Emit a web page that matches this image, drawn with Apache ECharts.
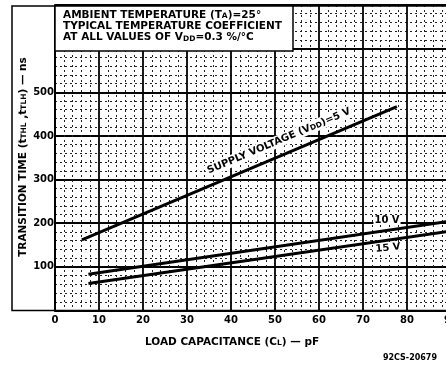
<!DOCTYPE html>
<html>
<head>
<meta charset="utf-8">
<script src="https://cdn.jsdelivr.net/npm/echarts@6/dist/echarts.min.js"></script>
<style>
html,body{margin:0;padding:0;background:#fff;}
#c{width:446px;height:365px;}
</style>
</head>
<body>
<div id="c"></div>
<script>
// ---- data ----
const capacitance5V = [6.1, 77.7];     // pF
const time5V = [162, 467];             // ns
const capacitance10V = [7.6, 90];
const time10V = [83, 205];
const capacitance15V = [7.6, 90];
const time15V = [62, 182];
const xTicks = [0, 10, 20, 30, 40, 50, 60, 70, 80, 90];
const yTickLabels = [100, 200, 300, 400, 500];

const FONT = '"DejaVu Sans", "Liberation Sans", sans-serif';
const pairs = (xs, ys) => xs.map((x, i) => [x, ys[i]]);
const sub = { s: { fontSize: 7.5, fontWeight: 'bold', fontFamily: FONT, fill: '#000', verticalAlign: 'bottom' } };

const chart = echarts.init(document.getElementById('c'), null, { renderer: 'canvas' });

const lineSeries = (name, data) => ({
  name, type: 'line', data, symbol: 'none', silent: true, z: 5,
  lineStyle: { color: '#000', width: 3 }
});

chart.setOption({
  animation: false,
  backgroundColor: '#fff',
  grid: { left: 55, right: -5, top: 5, bottom: 54.5, containLabel: false, outerBoundsMode: 'none' },
  xAxis: {
    type: 'value', min: xTicks[0], max: xTicks[xTicks.length - 1], interval: 10,
    axisLine: { show: true, lineStyle: { color: '#000', width: 2 } },
    axisTick: { show: false },
    axisLabel: { color: '#000', fontFamily: FONT, fontWeight: 'bold', fontSize: 10, margin: 5, hideOverlap: false },
    splitLine: { show: true, lineStyle: { color: '#000', width: 1.8 } },
    minorTick: { show: true, splitNumber: 5, length: 0 },
    minorSplitLine: { show: true, lineStyle: { color: '#222', width: 1, type: [2, 3] } }
  },
  yAxis: {
    type: 'value', min: 0, max: 700, interval: 100,
    axisLine: { show: true, lineStyle: { color: '#000', width: 2 } },
    axisTick: { show: false },
    axisLabel: {
      color: '#000', fontFamily: FONT, fontWeight: 'bold', fontSize: 10, margin: 1,
      formatter: v => (yTickLabels.indexOf(v) >= 0 ? String(v) : '')
    },
    splitLine: { show: true, lineStyle: { color: '#000', width: 1.8 } },
    minorTick: { show: true, splitNumber: 5, length: 0 },
    minorSplitLine: { show: true, lineStyle: { color: '#222', width: 1, type: [2, 3] } }
  },
  series: [
    lineSeries('5 V', pairs(capacitance5V, time5V)),
    lineSeries('10 V', pairs(capacitance10V, time10V)),
    lineSeries('15 V', pairs(capacitance15V, time15V))
  ],
  graphic: [
    // outer frame
    { type: 'polyline', z: 10, shape: { points: [[470, 6], [12, 6], [12, 310.5], [470, 310.5]] },
      style: { stroke: '#000', lineWidth: 1.5, fill: null } },
    // note box
    { type: 'rect', z: 20, shape: { x: 55, y: 6, width: 238, height: 45 },
      style: { fill: '#fff', stroke: '#000', lineWidth: 1.5 } },
    { type: 'text', z: 21, x: 63, y: 15, style: {
        text: 'AMBIENT TEMPERATURE (T{s|A})=25°', font: 'bold 10.5px ' + FONT, fill: '#000',
        verticalAlign: 'middle', rich: sub } },
    { type: 'text', z: 21, x: 63, y: 26, style: {
        text: 'TYPICAL TEMPERATURE COEFFICIENT', font: 'bold 10.5px ' + FONT, fill: '#000',
        verticalAlign: 'middle' } },
    { type: 'text', z: 21, x: 63, y: 37.5, style: {
        text: 'AT ALL VALUES OF V{s|DD}=0.3 %/°C', font: 'bold 10.5px ' + FONT, fill: '#000',
        verticalAlign: 'middle', rich: sub } },
    // curve labels
    { type: 'text', z: 21, x: 279, y: 141, rotation: 0.40, style: {
        text: 'SUPPLY VOLTAGE (V{s|DD})=5 V', font: 'bold 10px ' + FONT, fill: '#000',
        align: 'center', verticalAlign: 'middle', backgroundColor: '#fff', padding: [1, 2, 1, 2], rich: sub } },
    { type: 'text', z: 21, x: 387, y: 220, style: {
        text: '10 V', font: 'bold 10px ' + FONT, fill: '#000',
        align: 'center', verticalAlign: 'middle', backgroundColor: '#fff', padding: [0, 1, 0, 1] } },
    { type: 'text', z: 21, x: 388, y: 248, rotation: 0.1, style: {
        text: '15 V', font: 'bold 10px ' + FONT, fill: '#000',
        align: 'center', verticalAlign: 'middle', backgroundColor: '#fff', padding: [0, 1, 0, 1] } },
    // axis names
    { type: 'text', z: 21, x: 23, y: 157, rotation: Math.PI / 2, style: {
        text: 'TRANSITION TIME (t{s|THL} ,t{s|TLH}) — ns', font: 'bold 10.5px ' + FONT, fill: '#000',
        align: 'center', verticalAlign: 'middle', rich: sub } },
    { type: 'text', z: 21, x: 232, y: 342, style: {
        text: 'LOAD CAPACITANCE (C{s|L}) — pF', font: 'bold 10.5px ' + FONT, fill: '#000',
        align: 'center', verticalAlign: 'middle', rich: sub } },
    { type: 'text', z: 21, x: 437, y: 358, style: {
        text: '92CS-20679', font: 'bold 8px ' + FONT, fill: '#000',
        align: 'right', verticalAlign: 'middle' } }
  ]
});
</script>
</body>
</html>
